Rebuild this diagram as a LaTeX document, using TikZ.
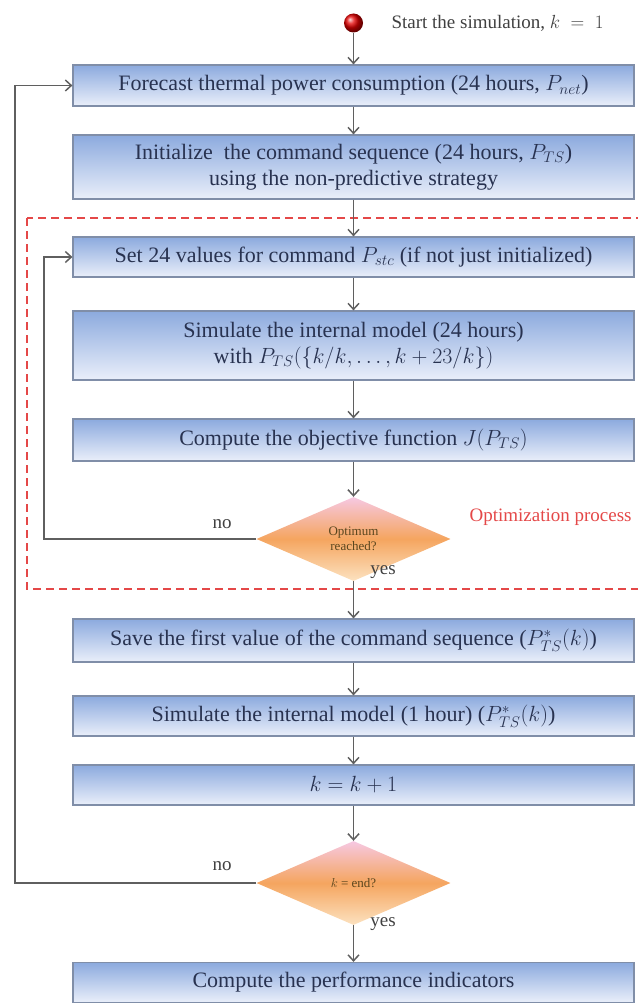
\RequirePackage{fix-cm}
\documentclass[tikz,border=0pt]{standalone}
\usepackage{amsmath}
\usepackage{fontspec}
\setmainfont{Liberation Serif}
\usetikzlibrary{arrows.meta,shapes.geometric,calc}
\definecolor{boxtop}{RGB}{140,170,222}
\definecolor{boxbot}{RGB}{234,239,250}
\definecolor{boxline}{RGB}{128,142,168}
\definecolor{boxtext}{RGB}{40,50,80}
\definecolor{dtop}{RGB}{246,200,226}
\definecolor{dmid}{RGB}{245,165,95}
\definecolor{dbot}{RGB}{252,226,192}
\definecolor{dtext}{RGB}{90,70,30}
\definecolor{optred}{RGB}{228,72,72}
\definecolor{arrgray}{RGB}{95,95,95}
\tikzset{
  proc/.style={draw=boxline,line width=1.2pt,top color=boxtop,bottom color=boxbot,
    minimum width=561pt,inner sep=0pt,text width=550pt,align=flush center,
    text=boxtext,font=\fontsize{22}{26}\selectfont},
  test/.style={diamond,aspect=2.3,minimum width=194pt,minimum height=84pt,inner sep=0pt,
    top color=dtop,bottom color=dbot,middle color=dmid,align=center,text=dtext,
    font=\fontsize{13}{15}\selectfont},
  flow/.style={draw=arrgray,line width=1.5pt,-{Straight Barb[length=6pt,width=11pt]}},
  lbl/.style={font=\fontsize{19}{22}\selectfont,text=black!75}
}
\begin{document}
\begin{tikzpicture}[x=1pt,y=-1pt]
\useasboundingbox(0,0)rectangle(637,1003);
%start
\node[circle,minimum size=19pt,inner sep=0pt,ball color=red!90!black](start)at(353.5,23){};
\node[lbl,anchor=west](starttxt)at(388,23){Start the simulation, $k\;=\;1$};
%optimization frame
\draw[optred,line width=1.8pt,dash pattern=on 8pt off 5pt](27,218)rectangle(660,589);
\node[lbl,text=optred,anchor=west](opt)at(466,517){Optimization process};
%boxes
\node[proc,minimum height=41pt](b1)at(353.5,85.5){Forecast thermal power consumption (24 hours, $P_{net}$)};
\node[proc,minimum height=64pt](b2)at(353.5,167){Initialize~ the command sequence (24 hours, $P_{TS}$)\\using the non-predictive strategy};
\node[proc,minimum height=40pt](b3)at(353.5,257){Set 24 values for command $P_{stc}$ (if not just initialized)};
\node[proc,minimum height=69pt](b4)at(353.5,345.5){Simulate the internal model (24 hours)\\with $P_{TS}(\{k/k,\ldots,k+23/k\})$};
\node[proc,minimum height=42pt](b5)at(353.5,440){Compute the objective function $J(P_{TS})$};
\node[test](d1)at(353.5,539){Optimum\\reached?};
\node[proc,minimum height=43pt](b6)at(353.5,640.5){Save the first value of the command sequence ($P^{*}_{TS}(k)$)};
\node[proc,minimum height=40pt](b7)at(353.5,716){Simulate the internal model (1 hour) ($P^{*}_{TS}(k)$)};
\node[proc,minimum height=40pt](b8)at(353.5,785){$k=k+1$};
\node[test](d2)at(353.5,883){$k$ = end?};
\node[proc,minimum height=40pt](b9)at(353.5,982.5){Compute the performance indicators};
%arrows
\draw[flow](start)--(b1);
\draw[flow](b1)--(b2);
\draw[flow](b2)--(b3);
\draw[flow](b3)--(b4);
\draw[flow](b4)--(b5);
\draw[flow](b5)--(d1);
\draw[flow](d1)--(b6);
\draw[flow](b6)--(b7);
\draw[flow](b7)--(b8);
\draw[flow](b8)--(d2);
\draw[flow](d2)--(b9);
%loops
\coordinate(inner)at(44,0);
\coordinate(outer)at(15,0);
\draw[flow](d1.west)--(d1.west-|inner)|-(b3.west);
\draw[flow](d2.west)--(d2.west-|outer)|-(b1.west);
%labels
\node[lbl](no1)at(222,524){no};
\node[lbl](yes1)at(383,572){yes};
\node[lbl](no2)at(222,866){no};
\node[lbl](yes2)at(383,924){yes};
\end{tikzpicture}
\end{document}
